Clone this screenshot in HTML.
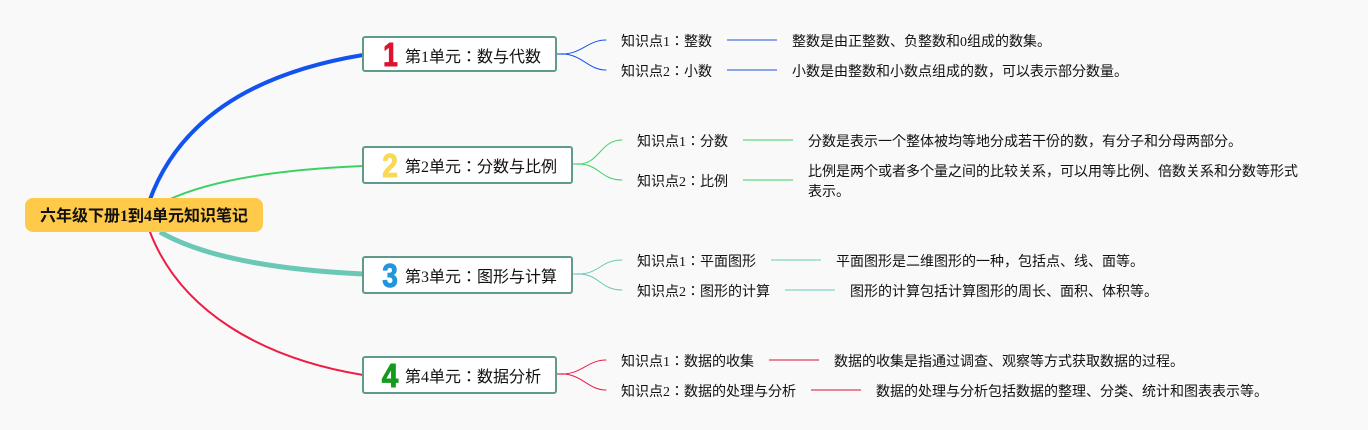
<!DOCTYPE html>
<html><head><meta charset="utf-8">
<style>
html,body{margin:0;padding:0;background:#f9f9fa;width:1368px;height:430px;overflow:hidden}
svg{display:block}
text{font-family:"Liberation Serif","Noto Sans CJK JP",sans-serif;fill:#111}
.u{font-size:16px}
.k{font-size:14px}
.d{font-size:14px}
.n{font-family:"Liberation Sans",sans-serif;font-weight:bold;font-size:33px;stroke-width:1;stroke-linejoin:round}
</style></head><body>
<svg width="1368" height="430" viewBox="0 0 1368 430" xmlns="http://www.w3.org/2000/svg">
<rect width="1368" height="430" fill="#f9f9fa"/>
<g fill="none" stroke-linecap="round">
<path d="M149 202C180 115 260 72 363 55" stroke="#1253f0" stroke-width="4"/>
<path d="M168 200C215 178 290 169 363 166" stroke="#3dd163" stroke-width="2"/>
<path d="M160 232C205 258 280 270 363 274" stroke="#6bc8b5" stroke-width="5" stroke-linecap="butt"/>
<path d="M150 232C180 310 260 358 363 375" stroke="#ee1c45" stroke-width="2"/>
<path d="M556 54H563" stroke="#4f7ff0" stroke-width="1.5" stroke-linecap="butt"/>
<path d="M572 164H579" stroke="#6cdc88" stroke-width="1.5" stroke-linecap="butt"/>
<path d="M572 274H579" stroke="#8fd6c8" stroke-width="1.5" stroke-linecap="butt"/>
<path d="M556 374H563" stroke="#f04f6e" stroke-width="1.5" stroke-linecap="butt"/>
<g stroke="#1253f0" stroke-width="1">
<path d="M562 54C582 54 588 40 606 40"/><path d="M562 54C582 54 588 70 606 70"/>
</g>
<g stroke="#3dd163" stroke-width="1">
<path d="M578 164C600 164 600 140 622 140"/><path d="M578 164C600 164 600 180 622 180"/>
</g>
<g stroke="#6bc8b5" stroke-width="1">
<path d="M578 274C600 274 600 260 622 260"/><path d="M578 274C600 274 600 290 622 290"/>
</g>
<g stroke="#ee1c45" stroke-width="1">
<path d="M562 374C582 374 588 360 606 360"/><path d="M562 374C582 374 588 390 606 390"/>
</g>
<g stroke-width="2" stroke-linecap="butt">
<path d="M727 40H777M727 70H777" stroke="#8aa6e8"/>
<path d="M743 140H793M743 180H793" stroke="#9be3ad"/>
<path d="M771 260H821M785 290H835" stroke="#afe2d8"/>
<path d="M769 360H819M811 390H861" stroke="#ea8499"/>
</g>
</g>
<rect x="25" y="198" width="238" height="34" rx="8" fill="#ffc94a"/>
<text x="40" y="221" font-size="16" font-weight="bold">六年级下册1到4单元知识笔记</text>
<g fill="#fff" stroke="#5f9a8c" stroke-width="2">
<rect x="363" y="37" width="193" height="34" rx="2"/>
<rect x="363" y="147" width="209" height="36" rx="2"/>
<rect x="363" y="257" width="209" height="36" rx="2"/>
<rect x="363" y="357" width="193" height="36" rx="2"/>
</g>
<text class="n" transform="translate(390.5 66) scale(.8 1)" text-anchor="middle" style="fill:#dc1430;stroke:#dc1430">1</text>
<text class="n" transform="translate(390 177) scale(.85 1)" text-anchor="middle" style="fill:#f6d955;stroke:#f6d955">2</text>
<text class="n" transform="translate(390 287) scale(.85 1)" text-anchor="middle" style="fill:#2196dc;stroke:#2196dc">3</text>
<text class="n" transform="translate(390 387) scale(.9 1)" text-anchor="middle" style="fill:#149a1e;stroke:#149a1e">4</text>
<text class="u" x="405" y="62">第1单元：数与代数</text>
<text class="u" x="405" y="172">第2单元：分数与比例</text>
<text class="u" x="405" y="282">第3单元：图形与计算</text>
<text class="u" x="405" y="382">第4单元：数据分析</text>
<text class="k" x="621" y="46">知识点1：整数</text>
<text class="k" x="621" y="76">知识点2：小数</text>
<text class="k" x="637" y="146">知识点1：分数</text>
<text class="k" x="637" y="186">知识点2：比例</text>
<text class="k" x="637" y="266">知识点1：平面图形</text>
<text class="k" x="637" y="296">知识点2：图形的计算</text>
<text class="k" x="621" y="366">知识点1：数据的收集</text>
<text class="k" x="621" y="396">知识点2：数据的处理与分析</text>
<text class="d" x="792" y="46">整数是由正整数、负整数和0组成的数集。</text>
<text class="d" x="792" y="76">小数是由整数和小数点组成的数，可以表示部分数量。</text>
<text class="d" x="808" y="146">分数是表示一个整体被均等地分成若干份的数，有分子和分母两部分。</text>
<text class="d" x="808" y="176">比例是两个或者多个量之间的比较关系，可以用等比例、倍数关系和分数等形式</text>
<text class="d" x="808" y="196">表示。</text>
<text class="d" x="836" y="266">平面图形是二维图形的一种，包括点、线、面等。</text>
<text class="d" x="850" y="296">图形的计算包括计算图形的周长、面积、体积等。</text>
<text class="d" x="834" y="366">数据的收集是指通过调查、观察等方式获取数据的过程。</text>
<text class="d" x="876" y="396">数据的处理与分析包括数据的整理、分类、统计和图表表示等。</text>
</svg>
</body></html>
